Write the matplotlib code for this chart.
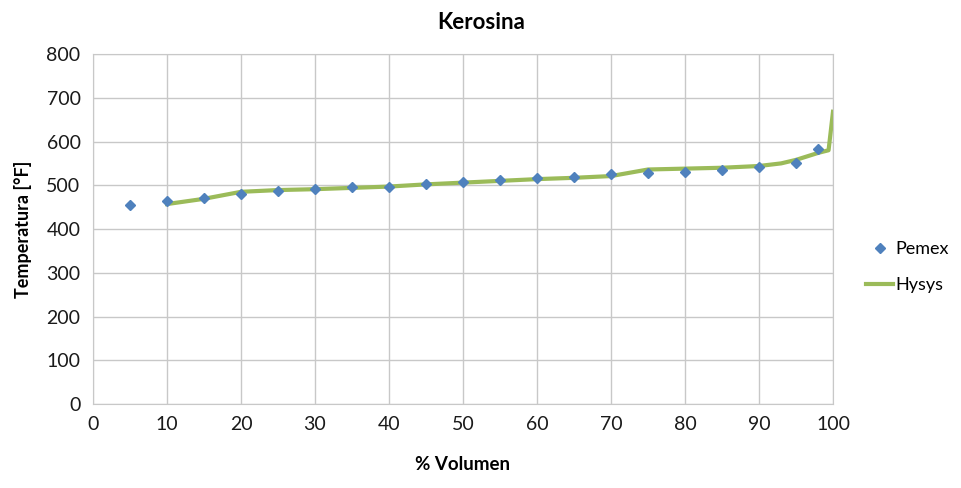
import matplotlib
matplotlib.use("Agg")
import matplotlib.pyplot as plt

plt.rcParams['font.family'] = ['Lato', 'DejaVu Sans']

# Pemex data (diamonds)
pemex_x = [5, 10, 15, 20, 25, 30, 35, 40, 45, 50, 55, 60, 65, 70, 75, 80, 85, 90, 95, 98]
pemex_y = [455, 463, 472, 480, 487, 491, 495, 497, 503, 508, 512, 517, 520, 525, 527, 531, 535, 542, 550, 584]

# Hysys curve
hysys_x = [10, 15, 20, 25, 30, 35, 40, 45, 50, 55, 60, 65, 70, 75, 80, 85, 90, 93, 95, 98, 99.4, 100]
hysys_y = [457, 469, 485, 489, 491, 494, 497, 502, 506, 510, 514, 517, 521, 536, 538, 540, 544, 550, 558, 574, 580, 668]

fig = plt.figure(figsize=(9.62, 4.88), dpi=100)
ax = fig.add_axes([93/962, 1 - 404/488, 740/962, 350/488])

ax.plot(hysys_x, hysys_y, color='#9BBB59', lw=3, label='Hysys', zorder=2)
ax.plot(pemex_x, pemex_y, linestyle='none', marker='D', markersize=5,
        color='#4F81BD', label='Pemex', zorder=3)

ax.set_xlim(0, 100)
ax.set_ylim(0, 800)
ax.set_xticks(range(0, 101, 10))
ax.set_yticks(range(0, 801, 100))
ax.grid(True, color='#C8C8C8', lw=1)
ax.set_axisbelow(True)
for s in ax.spines.values():
    s.set_color('#C8C8C8')
ax.tick_params(length=0, labelsize=14, pad=9, colors='#1a1a1a')

ax.set_xlabel('% Volumen', fontsize=13.5, fontweight='bold', labelpad=16)
ax.set_ylabel('Temperatura [°F]', fontsize=13, fontweight='bold', labelpad=10)
fig.suptitle('Kerosina', x=0.5, y=0.975, fontsize=16, fontweight='bold')

h, l = ax.get_legend_handles_labels()
fig.legend([h[1], h[0]], [l[1], l[0]], loc='center left',
           bbox_to_anchor=(866/962, 1 - 267/488), frameon=False, borderpad=0,
           borderaxespad=0, fontsize=13, handlelength=1.5, labelspacing=1.1,
           handletextpad=0.15)

fig.savefig('out.png', dpi=100)
